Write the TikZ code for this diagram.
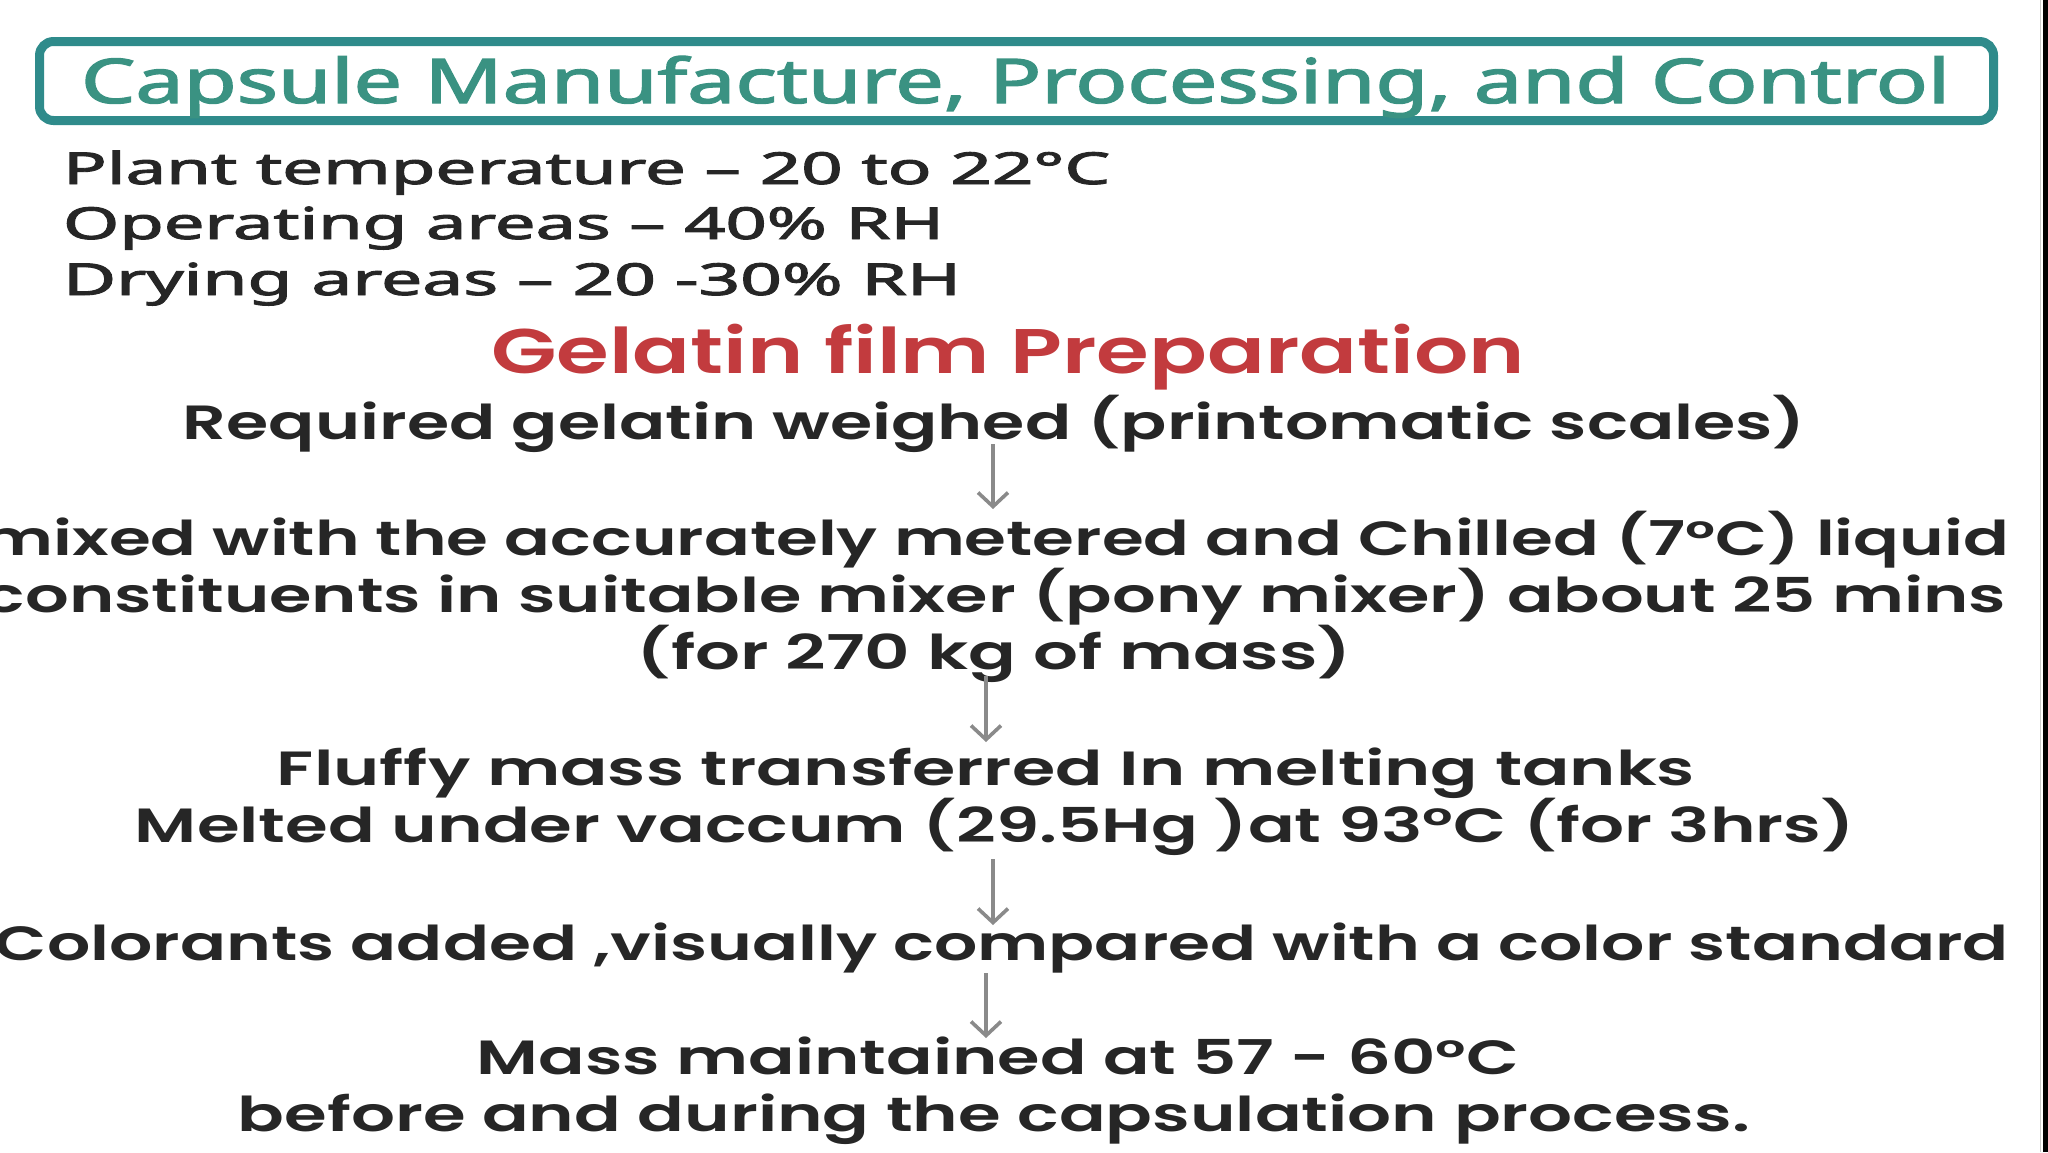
\documentclass[tikz,border=0pt]{standalone}
\usepackage{fontspec}
\usepackage{graphicx}
\usetikzlibrary{arrows.meta}
\newfontfamily\geo{Poppins SemiBold}
\newfontfamily\rob[FakeBold=2]{Noto Sans}
\definecolor{boxteal}{HTML}{2F8B8B}
\definecolor{titleteal}{HTML}{3A9282}
\definecolor{headred}{HTML}{C23B3E}
\definecolor{txt}{HTML}{262626}
\definecolor{arrowgray}{HTML}{8A8A8A}
\newcommand{\fitw}[2]{\resizebox{#1pt}{\height}{#2}}
\tikzset{
  txtline/.style={inner sep=0pt, outer sep=0pt, text=txt, anchor=base},
  topline/.style={txtline, anchor=base west, font=\rob\fontsize{22}{26}\selectfont},
  stepline/.style={txtline, font=\geo\fontsize{24}{29}\selectfont},
  flowarrow/.style={draw=arrowgray, line width=1.8pt, -{Straight Barb[length=7pt, width=15pt, line width=1.8pt]}},
}
\begin{document}
\begin{tikzpicture}[x=0.5pt, y=-0.5pt]
\useasboundingbox (0,0) rectangle (2048,1152);
\fill[white] (0,0) rectangle (2048,1152);
\fill[black] (2043,0) rectangle (2048,1152);
\draw[gray!40, line width=0.5pt] (2040,0) -- (2040,1152);

% title
\node (titlebox) [draw=boxteal, line width=4.5pt, rounded corners=7pt,
  minimum width=977pt, minimum height=39.5pt, inner sep=0pt] at (1016.5,81) {};
\node (title) [txtline, text=titleteal, font=\rob\fontsize{30.8}{36}\selectfont] at (1015.5,103) {\fitw{934.5}{Capsule Manufacture, Processing, and Control}};

% conditions
\node (plant) [topline] at (63,184) {\fitw{523.5}{Plant temperature – 20 to 22°C}};
\node (oper) [topline] at (63,239) {\fitw{440.5}{Operating areas – 40\% RH}};
\node (dry) [topline] at (63,295) {\fitw{449}{Drying areas – 20 -30\% RH}};

% heading
\node (head) [txtline, text=headred, font=\geo\fontsize{31.5}{38}\selectfont] at (1008,373) {\fitw{517}{Gelatin film Preparation}};

% steps
\node (s1) [stepline] at (994.5,439) {\fitw{811.5}{Required gelatin weighed (printomatic scales)}};
\node (s2a) [stepline] at (996,555) {\fitw{1013}{mixed with the accurately metered and Chilled (7°C) liquid}};
\node (s2b) [stepline] at (995,612) {\fitw{1011}{constituents in suitable mixer (pony mixer) about 25 mins}};
\node (s2c) [stepline] at (994.5,669) {\fitw{357.5}{(for 270 kg of mass)}};
\node (s3a) [stepline] at (986,785) {\fitw{709}{Fluffy mass transferred In melting tanks}};
\node (s3b) [stepline] at (995,842) {\fitw{860}{Melted under vaccum (29.5Hg )at 93°C (for 3hrs)}};
\node (s4) [stepline] at (1002,960) {\fitw{1007}{Colorants added ,visually compared with a color standard}};
\node (s5a) [stepline] at (998,1074) {\fitw{521}{Mass maintained at 57 - 60°C}};
\node (s5b) [stepline] at (994,1131) {\fitw{756}{before and during the capsulation process.}};

% arrows
\coordinate (a1s) at (993,444); \coordinate (a1e) at (993,509);
\coordinate (a2s) at (986,676); \coordinate (a2e) at (986,742);
\coordinate (a3s) at (993,859); \coordinate (a3e) at (993,925);
\coordinate (a4s) at (986,973); \coordinate (a4e) at (986,1038);
\draw[flowarrow] (a1s) -- (a1e);
\draw[flowarrow] (a2s) -- (a2e);
\draw[flowarrow] (a3s) -- (a3e);
\draw[flowarrow] (a4s) -- (a4e);
\end{tikzpicture}
\end{document}
